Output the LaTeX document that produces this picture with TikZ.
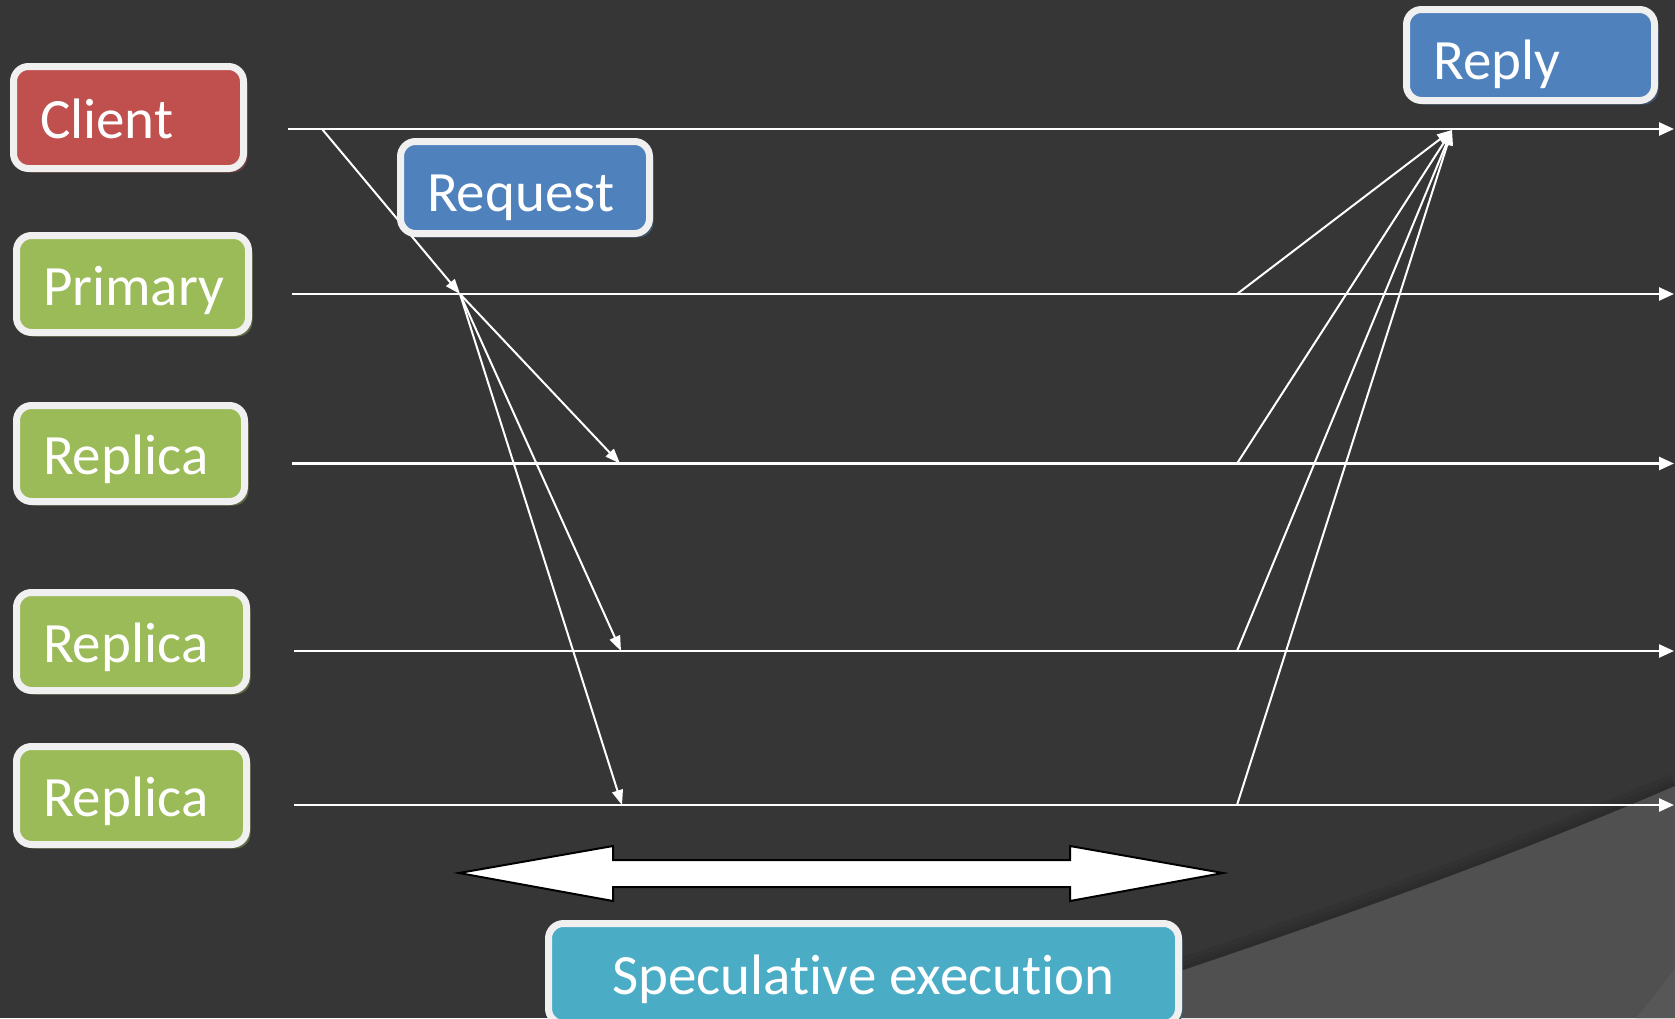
\documentclass[tikz,border=0pt]{standalone}
\usepackage{fontspec}
\setmainfont{Carlito}[RawFeature={-liga;-clig;-calt}]
\usetikzlibrary{arrows.meta,shadows}

\definecolor{slide}{HTML}{363636}
\definecolor{slidelight}{HTML}{505050}
\definecolor{rim}{HTML}{F0F0F0}
\definecolor{clientred}{HTML}{C0504D}
\definecolor{replicagreen}{HTML}{9BBB59}
\definecolor{msgblue}{HTML}{4F81BD}
\definecolor{specteal}{HTML}{4BACC6}

\begin{document}
\begin{tikzpicture}[x=1pt,y=-1pt,
role box/.style={draw=rim,fill=#1,line width=7pt,rounded corners=15pt,text=white,font=\fontsize{57}{68}\selectfont,inner xsep=26.5pt,inner ysep=0pt,text height=42pt,text depth=0pt,align=left,general shadow={fill=#1!40!slide,shadow xshift=4pt,shadow yshift=-4pt}},
timeline/.style={white,line width=2.5pt,-{Triangle[length=15pt,width=13pt]}},
msg/.style={white,line width=2pt,-{Triangle[length=15pt,width=11pt]}}]
\useasboundingbox (0,0) rectangle (1675,1018);
\fill[slide] (0,0) rectangle (1675,1018);
\foreach \w in {8,16,26}
  \draw[black,opacity=0.06,line width=\w pt] (1675,786) .. controls (1480,870) and (1290,935) .. (1040,1018);
\fill[slidelight] (1675,786) .. controls (1480,870) and (1290,935) .. (1040,1018) -- (1675,1018) -- cycle;
\fill[slidelight!96!white] (1675,968) .. controls (1655,995) .. (1636,1018) -- (1675,1018) -- cycle;

\coordinate (c0) at (288,129);   \coordinate (c1) at (1674,129);
\coordinate (p0) at (292,294);   \coordinate (p1) at (1674,294);
\coordinate (ra0) at (292,463.5);\coordinate (ra1) at (1674,463.5);
\coordinate (rb0) at (294,651);  \coordinate (rb1) at (1674,651);
\coordinate (rc0) at (294,805);  \coordinate (rc1) at (1674,805);
\foreach \a/\b in {c0/c1,p0/p1,ra0/ra1,rb0/rb1,rc0/rc1}
  \draw[timeline] (\a) -- (\b);

\coordinate (send) at (322,129);
\coordinate (recv) at (460,294);
\coordinate (raIn) at (620,463.5);
\coordinate (rbIn) at (621,651);
\coordinate (rcIn) at (622,805);
\coordinate (pOut) at (1237,294);
\coordinate (raOut) at (1237,463.5);
\coordinate (rbOut) at (1237,651);
\coordinate (rcOut) at (1237,805);
\coordinate (done) at (1452,130);
\draw[msg] (send) -- (recv);
\foreach \t in {raIn,rbIn,rcIn}
  \draw[msg] (recv) -- (\t);
\foreach \s in {pOut,raOut,rbOut,rcOut}
  \draw[msg] (\s) -- (done);

\draw[black,line width=2pt,fill=white,line join=miter] (459,873) -- (613,846) -- (613,860) -- (1070,860) -- (1070,846) -- (1223,873)
  -- (1070,901) -- (1070,887) -- (613,887) -- (613,901) -- cycle;

\node[role box=clientred,text width=177pt,minimum height=102pt] (client) at (128.5,117.5) {Client};
\node[role box=replicagreen,text width=179pt,minimum height=97pt] (primary) at (132.5,284) {Primary};
\node[role box=replicagreen,text width=175pt,minimum height=96pt] (replicaA) at (130.5,453.5) {Replica};
\node[role box=replicagreen,text width=177pt,minimum height=98pt] (replicaB) at (131.5,641.5) {Replica};
\node[role box=replicagreen,text width=177pt,minimum height=98pt] (replicaC) at (131.5,795.5) {Replica};
\node[role box=msgblue,text width=196pt,minimum height=92pt,text height=48pt] (request) at (525,187.5) {Request};
\node[role box=msgblue,text width=195pt,minimum height=91pt,text height=48pt] (reply) at (1530.5,55) {Reply};
\node[role box=specteal,align=center,inner xsep=0pt,minimum width=630pt,minimum height=100pt] (spec) at (863.5,973.5) {Speculative execution};
\end{tikzpicture}
\end{document}
